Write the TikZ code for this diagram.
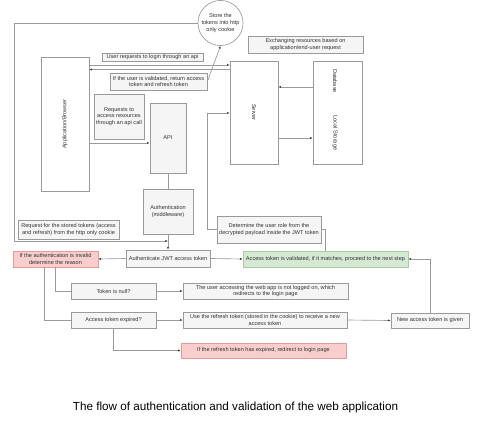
\documentclass[tikz,border=0pt]{standalone}
\usepackage{fontspec}
\setmainfont{Liberation Sans}
\usetikzlibrary{arrows.meta}
\definecolor{boxline}{HTML}{9A9A9A}
\definecolor{boxfill}{HTML}{F5F5F5}
\definecolor{txt}{HTML}{333333}
\definecolor{redfill}{HTML}{F8CECC}
\definecolor{redline}{HTML}{E39C9A}
\definecolor{greenfill}{HTML}{D5E8D4}
\definecolor{greenline}{HTML}{A9CF9F}
\begin{document}
\begin{tikzpicture}[x=1pt,y=1pt]
\tikzstyle{every node}+=[inner sep=1pt, text=txt, align=center, font=\fontsize{5.6}{6.8}\selectfont]
\tikzstyle{plain}=[draw=boxline, line width=0.65pt, fill=white]
\tikzstyle{grey}=[plain, fill=boxfill]
\tikzstyle{bad}=[draw=redline, line width=0.65pt, fill=redfill]
\tikzstyle{good}=[draw=greenline, line width=0.65pt, fill=greenfill]
\tikzstyle{wire}=[draw=boxline, line width=0.65pt]
\tikzstyle{arr}=[wire, -{Latex[length=2.6pt,width=2.2pt,color=black!75]}]
\useasboundingbox (0,0) rectangle (487,-429);
\node [plain, circle, minimum size=42] (cookie) at (220.5,-23) {Store the\\tokens into http\\only cookie};
\node [plain, minimum width=48, minimum height=134] (app) at (65,-124) {};
\node [rotate=90] (applbl) at (app.center) {Application/Browser};
\node [plain, minimum width=48, minimum height=103] (server) at (254,-112.5) {};
\node [rotate=-90] (serverlbl) at (server.center) {Server};
\node [plain, minimum width=49, minimum height=103] (store) at (337.5,-112.5) {};
\node [rotate=-90] (dblbl) at (335,-81) {Database};
\node [rotate=-90] (locallbl) at (335,-133) {Local Storage};
\node [grey, minimum width=115, minimum height=17] (exchlbl) at (305.5,-44.5) {Exchanging resources based on\\application/end-user request};
\node [grey, minimum width=101, minimum height=8] (loginlbl) at (152.5,-57) {User requests to login through an api};
\node [grey, minimum width=97, minimum height=17] (validlbl) at (158.5,-81.5) {If the user is validated, return access\\token and refresh token};
\node [grey, minimum width=50, minimum height=45] (reqlbl) at (119,-116.5) {Requests to\\access resources\\through an api call};
\node [grey, minimum width=36, minimum height=70] (api) at (168,-138) {API};
\node [grey, minimum width=50, minimum height=45] (auth) at (168,-211.5) {Authentication\\(middleware)};
\node [grey, minimum width=101, minimum height=19] (cookielbl) at (68.5,-229.5) {Request for the stored tokens (access\\and refresh) from the http only cookie};
\node [grey, minimum width=104, minimum height=27] (role) at (269,-229.5) {Determine the user role from the\\decrypted payload inside the JWT token};
\node [grey, minimum width=84, minimum height=17] (jwt) at (168,-258.5) {Authenticate JWT access token};
\node [bad, minimum width=85, minimum height=16] (invalid) at (55.5,-259) {If the authentication is invalid\\determine the reason};
\node [good, minimum width=165, minimum height=16] (valid) at (325.5,-259) {Access token is validated, if it matches, proceed to the next step};
\node [grey, minimum width=85, minimum height=16] (tokennull) at (113.5,-291) {Token is null?};
\node [grey, minimum width=85, minimum height=16] (expired) at (113.5,-320) {Access token expired?};
\node [grey, minimum width=165, minimum height=16] (notlogged) at (265.5,-291) {The user accessing the web app is not logged on, which\\redirects to the login page};
\node [grey, minimum width=164, minimum height=16] (refresh) at (265,-320) {Use the refresh token (stored in the cookie) to receive a new\\access token};
\node [grey, minimum width=78, minimum height=15] (newtoken) at (430,-320.5) {New access token is given};
\node [bad, minimum width=165, minimum height=15] (relogin) at (263.5,-350.5) {If the refresh token has expired, redirect to login page};
\node [text=black, font=\fontsize{11.7}{14}\selectfont] (caption) at (235.5,-407) {The flow of authentication and validation of the web application};
\coordinate (loopcorner) at (14,-241);
\coordinate (loopend) at (168,-241);
\coordinate (roleturn) at (207,-113);
\draw [wire] (cookie.west) -| (loopcorner);
\draw [arr] (loopcorner) -- (loopend);
\draw [arr] (validlbl.east) -- (cookie.south);
\draw [arr] (app.east |- 0,-65) -- (server.west |- 0,-65);
\draw [arr] (server.west |- 0,-69.5) -- (app.east |- 0,-69.5);
\draw [arr] (app.east |- 0,-143) -- (api.west |- 0,-143);
\draw [arr] (store.west |- 0,-87) -- (server.east |- 0,-87);
\draw [arr] (server.east |- 0,-138) -- (store.west |- 0,-138);
\draw [wire] (api.south) -- (auth.north);
\draw [arr] (auth.south) -- (jwt.north);
\draw [arr] (jwt.west) -- (invalid.east);
\draw [arr] (jwt.east) -- (valid.west);
\draw [wire] (role.west) -| (roleturn);
\draw [arr] (roleturn) -- (server.west |- roleturn);
\draw [wire] (role.east) -| (valid.north);
\draw [wire] (invalid.south) |- (tokennull.west);
\draw [wire] ([xshift=-11.5]invalid.south) |- (expired.west);
\draw [arr] (tokennull.east) -- (notlogged.west);
\draw [arr] (expired.east) -- (refresh.west);
\draw [arr] (refresh.east) -- (newtoken.west);
\draw [arr] (newtoken.north) |- (valid.east);
\draw [arr] (expired.south) |- (relogin.west);
\end{tikzpicture}
\end{document}
